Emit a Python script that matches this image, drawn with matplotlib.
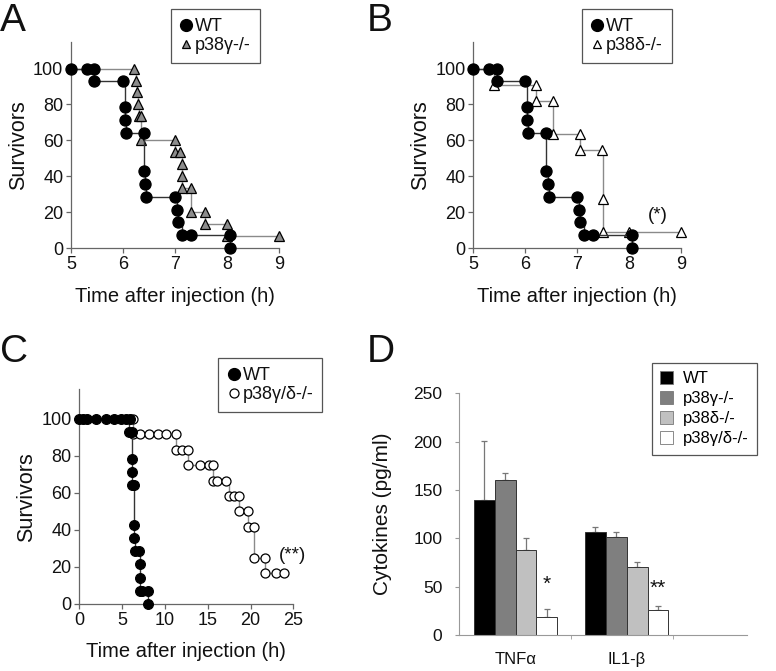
import matplotlib
matplotlib.use('Agg')
import matplotlib.pyplot as plt
from matplotlib.lines import Line2D
from matplotlib.patches import Patch
import numpy as np

plt.rcParams['font.family'] = ['Liberation Sans', 'DejaVu Sans']

# --- survival data (time in h, % survivors) ---
# WT group, panels A and B
wt_t = [5.0, 5.3, 5.45, 5.45, 6.0, 6.03, 6.04, 6.05, 6.4, 6.4, 6.43, 6.45,
        7.0, 7.04, 7.06, 7.14, 7.3, 8.05, 8.05]
wt_s = [100, 100, 100, 92.9, 92.9, 78.6, 71.4, 64.3, 64.3, 42.9, 35.7, 28.6,
        28.6, 21.4, 14.3, 7.1, 7.1, 7.1, 0]

# p38gamma-/- (panel A), first point is the start of the curve (no marker)
gam_t = [5.0, 6.22, 6.25, 6.27, 6.28, 6.3, 6.35, 6.35, 7.0, 7.0, 7.1, 7.13,
         7.14, 7.14, 7.3, 7.3, 7.57, 7.57, 8.0, 8.0, 9.0]
gam_s = [100, 100, 93.3, 86.7, 80, 73.3, 73.3, 60, 60, 53.3, 53.3, 46.7,
         40, 33.3, 33.3, 20, 20, 13.3, 13.3, 6.7, 6.7]

# p38delta-/- (panel B)
del_t = [5.0, 5.4, 6.2, 6.2, 6.54, 6.54, 7.05, 7.05, 7.47, 7.49, 7.5, 8.0, 9.0]
del_s = [100, 90.9, 90.9, 81.8, 81.8, 63.6, 63.6, 54.5, 54.5, 27.3, 9.1, 9.1, 9.1]

# panel C
wtc_t = [0, 0.4, 0.9, 2.0, 3.1, 4.1, 4.9, 5.4, 5.9, 5.85, 6.1, 6.12, 6.14,
         6.15, 6.4, 6.4, 6.43, 6.5, 7.0, 7.04, 7.06, 7.14, 7.3, 8.05, 8.05]
wtc_s = [100, 100, 100, 100, 100, 100, 100, 100, 100, 92.9, 92.9, 78.6, 71.4,
         64.3, 64.3, 42.9, 35.7, 28.6, 28.6, 21.4, 14.3, 7.1, 7.1, 7.1, 0]

dko_t = [0, 6.3, 6.3, 7.1, 8.1, 9.15, 10.15, 11.25, 11.25, 12.0, 12.7, 12.7,
         14.1, 15.1, 15.6, 15.6, 16.1, 17.1, 17.5, 18.1, 18.7, 18.7, 19.7,
         19.7, 20.35, 20.35, 21.65, 21.65, 23.0, 23.95]
dko_s = [100, 100, 91.7, 91.7, 91.7, 91.7, 91.7, 91.7, 83.3, 83.3, 83.3, 75,
         75, 75, 75, 66.7, 66.7, 66.7, 58.3, 58.3, 58.3, 50, 50,
         41.7, 41.7, 25, 25, 16.7, 16.7, 16.7]

# --- cytokines (pg/ml) ---
cytokines = ['TNF\u03b1', 'IL1-\u03b2']
groups = ['WT', 'p38\u03b3-/-', 'p38\u03b4-/-', 'p38\u03b3/\u03b4-/-']
means = {'WT': [140, 106], 'p38\u03b3-/-': [160, 101],
         'p38\u03b4-/-': [88, 70], 'p38\u03b3/\u03b4-/-': [19, 26]}
errs = {'WT': [61, 6], 'p38\u03b3-/-': [8, 5],
        'p38\u03b4-/-': [12, 5], 'p38\u03b3/\u03b4-/-': [8, 4]}
bar_colors = ['#000000', '#7f7f7f', '#c0c0c0', '#ffffff']

fig = plt.figure(figsize=(7.76, 6.71), dpi=100)

TXT = '#111111'
SPINE = '#666666'
TICK_FS = 13
LAB_FS = 14.5


def style_axes(ax):
    for s in ['top', 'right']:
        ax.spines[s].set_visible(False)
    for s in ['left', 'bottom']:
        ax.spines[s].set_color(SPINE)
        ax.spines[s].set_linewidth(0.9)
    ax.tick_params(direction='out', length=3.5, width=0.9, color=SPINE,
                   labelsize=TICK_FS, labelcolor=TXT, pad=2)


def km(ax, t, s, line_c, marker, face, ms, skip_first=False, z=2):
    ax.plot(t, s, drawstyle='steps-post', color=line_c, lw=1.0, zorder=z,
            clip_on=False)
    mt = t[1:] if skip_first else t
    ms_ = s[1:] if skip_first else s
    ax.plot(mt, ms_, ls='none', marker=marker, mfc=face, mec='black',
            mew=0.9, ms=ms, zorder=z + 1, clip_on=False)


def surv_legend(ax, other_label, marker, face, ms, x0, y0):
    h = [Line2D([], [], ls='none', marker='o', mfc='black', mec='black', ms=8.5),
         Line2D([], [], ls='none', marker=marker, mfc=face, mec='black',
                mew=0.9, ms=ms)]
    leg = ax.legend(h, ['WT', other_label], loc='upper left',
                    bbox_to_anchor=(x0, y0), bbox_transform=fig.transFigure,
                    borderaxespad=0, fontsize=13, handlelength=0.7,
                    handletextpad=0.15, labelspacing=0.1, borderpad=0.5,
                    fancybox=False, edgecolor='#555555', framealpha=1)
    leg.get_frame().set_linewidth(0.9)
    for t in leg.get_texts():
        t.set_color(TXT)


def surv_axes(ax):
    ax.set_ylim(0, 115)
    ax.set_yticks([0, 20, 40, 60, 80, 100])
    ax.set_xlabel('Time after injection (h)', fontsize=LAB_FS, color=TXT,
                  labelpad=10)
    ax.set_ylabel('Survivors', fontsize=15.5, color=TXT, labelpad=3)


# Panel A
axA = fig.add_axes([0.0915, 0.6304, 0.268, 0.3075])
style_axes(axA)
km(axA, gam_t, gam_s, '#8a8a8a', '^', '#8c8c8c', 6.5, skip_first=True, z=2)
km(axA, wt_t, wt_s, '#333333', 'o', 'black', 8, z=4)
axA.set_xlim(5, 9)
axA.set_xticks([5, 6, 7, 8, 9])
surv_axes(axA)
surv_legend(axA, 'p38\u03b3-/-', '^', '#8c8c8c', 6, 0.22, 0.986)

# Panel B
axB = fig.add_axes([0.6099, 0.6304, 0.2677, 0.3075])
style_axes(axB)
km(axB, del_t, del_s, '#8a8a8a', '^', 'white', 6.5, skip_first=True, z=2)
km(axB, wt_t, wt_s, '#333333', 'o', 'black', 8, z=4)
axB.set_xlim(5, 9)
axB.set_xticks([5, 6, 7, 8, 9])
surv_axes(axB)
axB.text(8.55, 18, '(*)', fontsize=13.5, color=TXT, ha='center', va='center')
surv_legend(axB, 'p38\u03b4-/-', '^', 'white', 6, 0.7496, 0.986)

# Panel C
axC = fig.add_axes([0.1022, 0.0999, 0.2758, 0.3199])
style_axes(axC)
km(axC, dko_t, dko_s, '#8a8a8a', 'o', 'white', 6.5, skip_first=True, z=2)
km(axC, wtc_t, wtc_s, '#333333', 'o', 'black', 7, z=4)
axC.set_xlim(0, 25)
axC.set_xticks([0, 5, 10, 15, 20, 25])
surv_axes(axC)
axC.set_ylim(0, 116)
axC.text(24.9, 26, '(**)', fontsize=13.5, color=TXT, ha='center', va='center',
         clip_on=False)
surv_legend(axC, 'p38\u03b3/\u03b4-/-', 'o', 'white', 6.5, 0.2813, 0.466)

# Panel D
axD = fig.add_axes([0.5915, 0.0537, 0.3707, 0.3602])
for s in ['top', 'right']:
    axD.spines[s].set_visible(False)
for s in ['left', 'bottom']:
    axD.spines[s].set_color('#999999')
    axD.spines[s].set_linewidth(0.8)
x = np.arange(len(cytokines))
w = 0.1877
for i, g in enumerate(groups):
    pos = x + (i - 1.5) * w
    axD.bar(pos, means[g], width=w, color=bar_colors[i], edgecolor='#333333',
            linewidth=0.7, label=g, zorder=2)
    axD.errorbar(pos, means[g], yerr=[np.zeros(len(cytokines)), errs[g]],
                 fmt='none', ecolor='#777777', elinewidth=0.9, capsize=2.2,
                 capthick=0.9, zorder=1)
axD.text(x[0] + 1.5 * w, 52, '*', fontsize=15, ha='center', va='center', color=TXT)
axD.text(x[1] + 1.5 * w, 48, '**', fontsize=15, ha='center', va='center', color=TXT)
axD.set_xlim(-0.51, 2.08)
axD.set_ylim(0, 250)
axD.set_yticks([0, 50, 100, 150, 200, 250])
axD.set_xticks(x)
axD.set_xticklabels(cytokines)
axD.set_xticks([0.5, 1.42], minor=True)
axD.tick_params(axis='x', which='major', length=0, labelsize=12,
                labelcolor=TXT, pad=12)
axD.tick_params(axis='x', which='minor', length=3, color='#999999')
axD.tick_params(axis='y', length=3, color='#999999', labelsize=12.5,
                labelcolor=TXT, pad=9)
axD.set_ylabel('Cytokines (pg/ml)', fontsize=15, color=TXT, labelpad=15)
hD = [Patch(facecolor=c, edgecolor='#777777', linewidth=0.6) for c in bar_colors]
legD = axD.legend(hD, groups, loc='upper left', bbox_to_anchor=(0.8398, 0.459),
                  bbox_transform=fig.transFigure, borderaxespad=0, fontsize=12,
                  handlelength=0.75, handleheight=0.75, handletextpad=0.6,
                  labelspacing=0.3, borderpad=0.5, fancybox=False,
                  edgecolor='#555555', framealpha=1)
legD.get_frame().set_linewidth(0.9)

# panel letters
for letter, (fx, fy) in {'A': (0.0, 0.995), 'B': (0.472, 0.995),
                         'C': (0.0, 0.502), 'D': (0.472, 0.502)}.items():
    fig.text(fx, fy, letter, fontsize=28, color=TXT, ha='left', va='top')

fig.savefig('out.png', dpi=100)
